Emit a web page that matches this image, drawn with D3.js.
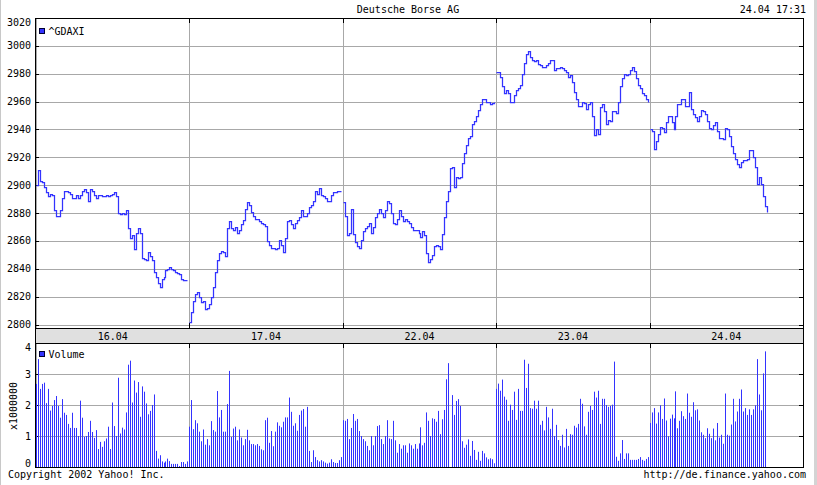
<!DOCTYPE html>
<html><head><meta charset="utf-8">
<script src="https://cdn.jsdelivr.net/npm/d3@7"></script>
<style>
body{margin:0;background:#fff}
svg{display:block}
text{font-family:"DejaVu Sans Mono",monospace;font-size:10px;fill:#000}
</style>
</head><body>
<svg id="c" width="817" height="485"></svg>
<script>
// ---------- data ----------
const title = "Deutsche Borse AG";
const stamp = "24.04 17:31";
const days = ["16.04", "17.04", "22.04", "23.04", "24.04"];
const slotsPerDay = 77; // sampling slots per trading session shown on the chart
const priceTicks = [2800, 2820, 2840, 2860, 2880, 2900, 2920, 2940, 2960, 2980, 3000, 3020];
const volumeTicks = [0, 1, 2, 3, 4]; // x1000000

const price1604 = [2900,2911,2903,2902,2899,2895,2892,2894,2893,2882,
  2878,2878,2882,2891,2896,2896,2895,2894,2891,2891,
  2893,2891,2893,2896,2897,2895,2889,2897,2896,2893,
  2891,2893,2893,2892,2892,2893,2892,2893,2894,2895,
  2892,2880,2879,2880,2879,2882,2869,2862,2864,2854,
  2866,2869,2866,2848,2847,2846,2852,2849,2846,2838,
  2834,2830,2827,2833,2834,2839,2840,2841,2840,2839,
  2838,2837,2836,2833,2832,2832,2832];
const price1704 = [2802,2809,2817,2822,2823,2820,2816,2817,2811,2812,
  2815,2820,2827,2838,2846,2851,2853,2852,2849,2869,
  2874,2869,2868,2870,2866,2868,2872,2875,2883,2888,
  2886,2881,2878,2876,2876,2874,2873,2872,2871,2860,
  2857,2855,2855,2854,2855,2861,2857,2852,2862,2874,
  2875,2872,2869,2873,2875,2877,2882,2878,2878,2880,
  2884,2886,2889,2896,2894,2898,2893,2892,2891,2889,
  2889,2893,2895,2895,2896,2896,2896];
const price2204 = [2888,2878,2864,2866,2883,2865,2859,2856,2855,2861,
  2867,2869,2871,2873,2866,2870,2877,2880,2883,2880,
  2877,2882,2889,2887,2880,2873,2872,2876,2882,2878,
  2874,2876,2874,2873,2870,2868,2868,2868,2866,2863,
  2867,2864,2851,2845,2847,2850,2856,2857,2856,2854,
  2865,2877,2889,2896,2912,2913,2899,2906,2905,2906,
  2916,2923,2929,2934,2935,2944,2946,2950,2954,2958,
  2962,2962,2960,2960,2958,2959,2960];
const price2304 = [2981,2981,2978,2971,2966,2968,2966,2960,2960,2965,
  2968,2970,2972,2980,2988,2994,2996,2992,2990,2989,
  2990,2987,2986,2985,2985,2986,2988,2990,2990,2983,
  2984,2984,2985,2984,2983,2981,2978,2979,2974,2967,
  2962,2957,2957,2960,2959,2955,2958,2960,2950,2936,
  2940,2937,2956,2958,2953,2944,2947,2946,2953,2953,
  2952,2960,2971,2977,2980,2979,2980,2983,2985,2982,
  2977,2972,2970,2966,2965,2962,2960];
const price2404 = [2940,2939,2926,2932,2937,2942,2941,2938,2945,2950,
  2950,2945,2940,2950,2958,2958,2962,2962,2957,2957,
  2967,2955,2951,2949,2946,2950,2954,2953,2951,2946,
  2941,2940,2943,2945,2939,2934,2934,2933,2941,2940,
  2935,2928,2923,2919,2915,2913,2917,2918,2918,2919,
  2925,2925,2920,2913,2901,2906,2901,2892,2885,2881];

// volume in millions
const volume1604 = [2.68,3.48,2.52,2.68,2.72,2.06,2.52,1.82,1.97,2.16,
  2.29,1.97,1.59,2.19,1.75,1.68,1.39,1.26,1.75,1.26,
  1.26,1.00,2.14,1.59,0.97,1.00,1.13,1.49,1.13,0.94,
  1.19,0.58,0.81,0.65,0.83,0.92,1.30,0.58,2.08,1.32,
  1.00,2.88,1.08,1.27,1.21,1.76,3.30,3.43,2.08,2.79,
  2.40,2.74,1.62,2.60,2.43,2.05,1.70,1.81,2.00,2.34,
  0.52,0.27,0.38,0.18,0.14,0.18,0.27,0.19,0.10,0.10,
  0.10,0.10,0.03,0.16,0.16,0.10,0.18];
const volume1704 = [1.30,2.16,1.22,1.51,1.41,1.14,0.83,1.21,0.72,0.90,
  0.70,1.48,1.19,1.14,2.45,1.60,1.84,1.14,1.14,2.03,
  3.10,0.97,1.24,1.30,0.86,1.21,0.95,0.70,0.90,1.20,
  0.86,0.74,0.74,0.70,0.74,0.68,0.57,0.54,1.51,1.59,
  0.78,1.16,0.67,1.14,1.44,1.33,1.28,1.46,1.60,1.60,
  2.24,1.78,1.33,1.41,1.17,1.68,1.82,1.87,1.30,1.94,
  0.52,0.16,0.54,0.32,0.22,0.18,0.22,0.18,0.14,0.11,
  0.14,0.25,0.16,0.13,0.13,0.22,0.32];
const volume2204 = [1.51,1.49,1.55,0.90,1.26,1.71,1.49,1.55,1.16,1.00,
  0.90,0.83,0.68,0.54,1.00,0.70,1.00,1.32,1.35,0.90,
  0.74,1.00,1.51,0.92,0.90,1.49,0.86,0.46,0.74,0.59,
  0.70,0.70,0.46,0.76,0.70,0.59,0.74,0.59,0.76,1.28,
  0.70,0.78,1.76,1.49,1.00,1.57,1.55,1.46,1.81,1.06,
  1.54,1.84,2.83,3.35,0,2.32,1.68,2.13,2.19,1.97,
  0.83,0.62,0.72,0.89,0.36,0.84,0.55,0.23,0.49,0.20,
  0.52,0.44,0.31,0.25,0.28,0.25,0.12];
const volume2304 = [2.52,2.69,2.46,2.82,2.27,2.17,1.49,2.01,1.84,2.43,
  1.52,2.52,1.81,1.81,3.46,2.55,3.33,1.90,1.88,2.14,
  1.88,2.14,1.36,1.49,1.18,1.94,1.60,1.23,1.88,1.00,
  1.36,0.87,0.68,1.04,0.63,1.23,0.68,1.06,1.04,1.33,
  1.27,1.39,2.20,2.04,1.31,1.04,1.78,1.97,1.84,2.43,
  2.24,2.46,1.39,2.20,2.20,2.00,1.94,1.97,2.01,3.40,
  0.33,0.20,0.44,0.87,0.26,0.44,0.44,0.23,0.23,0.23,
  0.23,0.26,0.32,0.23,0.20,0.26,0.32];
const volume2404 = [1.42,1.76,1.90,1.40,1.76,1.99,1.55,2.21,1.50,0.99,
  1.56,1.69,1.57,2.44,1.25,1.49,1.80,1.64,1.55,2.37,
  1.75,1.62,2.09,1.83,1.86,1.50,1.12,1.04,0.93,1.25,
  1.07,0.93,1.24,0.86,1.42,0.95,1.04,0.75,2.37,1.04,
  1.01,1.37,2.20,1.47,1.79,2.20,2.50,1.79,1.90,1.68,
  1.86,1.68,1.86,1.99,3.48,2.34,1.83,3.02,3.73];

const priceByDay = [price1604, price1704, price2204, price2304, price2404];
const volumeByDay = [volume1604, volume1704, volume2204, volume2304, volume2404];

// ---------- layout ----------
const svg = d3.select("#c");
const L = 36, R = 803;
const pTop = 18, pBot = 328, vTop = 343, vBot = 467;
const blue = "#3333ff", grid = "#a8a8a8";

const x = d3.scaleLinear().domain([0, days.length * slotsPerDay]).range([L, R]);
const y = d3.scaleLinear().domain([2797.5, 3020]).range([pBot, pTop]);
const yv = d3.scaleLinear().domain([0, 4]).range([vBot, vTop]);
const px = v => Math.round(v) + 0.5;

// image edge
svg.append("rect").attr("x", 0).attr("y", 0).attr("width", 1).attr("height", 485).attr("fill", "#c8c8c8");
svg.append("rect").attr("x", 814).attr("y", 0).attr("width", 3).attr("height", 485).attr("fill", "#d4d4d4");

// header
svg.append("text").attr("x", 408).attr("y", 13).attr("text-anchor", "middle").text(title);
svg.append("text").attr("x", 806).attr("y", 13).attr("text-anchor", "end").text(stamp);

// date strip
svg.append("rect").attr("x", L).attr("y", pBot).attr("width", R - L).attr("height", vTop - pBot).attr("fill", "#e0e0e0");
svg.selectAll(".dlab").data(days).enter().append("text")
  .attr("x", (d, i) => x((i + 0.5) * slotsPerDay)).attr("y", 339.5)
  .attr("text-anchor", "middle").text(d => d);

const bounds = d3.range(1, days.length).map(k => k * slotsPerDay);

function panelGrid(top, bot, scale, ticks) {
  const g = svg.append("g");
  g.selectAll(".h").data(ticks.filter(t => Math.abs(scale(t) - top) > 2 && Math.abs(scale(t) - bot) > 2))
    .enter().append("line")
    .attr("x1", L).attr("x2", R).attr("y1", d => px(scale(d))).attr("y2", d => px(scale(d)))
    .attr("stroke", grid);
  g.selectAll(".v").data(bounds).enter().append("line")
    .attr("x1", d => px(x(d))).attr("x2", d => px(x(d))).attr("y1", top).attr("y2", bot)
    .attr("stroke", grid);
  // inner grey edge next to the left axis
  g.append("line").attr("x1", L + 0.5).attr("x2", L + 0.5).attr("y1", top).attr("y2", bot).attr("stroke", grid);
  ticks.forEach(t => {
    const yy = px(scale(t));
    g.append("line").attr("x1", L - 1).attr("x2", L + 3).attr("y1", yy).attr("y2", yy).attr("stroke", "#000");
    g.append("line").attr("x1", R - 4).attr("x2", R).attr("y1", yy).attr("y2", yy).attr("stroke", "#000");
  });
  bounds.forEach(b => {
    const xx = px(x(b));
    g.append("line").attr("x1", xx).attr("x2", xx).attr("y1", top).attr("y2", top + 5).attr("stroke", "#000");
    g.append("line").attr("x1", xx).attr("x2", xx).attr("y1", bot - 5).attr("y2", bot).attr("stroke", "#000");
  });
  g.selectAll(".lab").data(ticks).enter().append("text")
    .attr("x", 31).attr("text-anchor", "end").attr("dominant-baseline", "central")
    .attr("y", d => Math.min(Math.max(scale(d), top + 4.5), bot - 4))
    .text(d => d);
}
panelGrid(pTop, pBot, y, priceTicks);
panelGrid(vTop, vBot, yv, volumeTicks);

svg.append("clipPath").attr("id", "pc").append("rect").attr("x", L).attr("y", pTop).attr("width", R - L).attr("height", pBot - pTop);

// price line: one stepped segment per session
const line = d3.line().curve(d3.curveStepAfter);
priceByDay.forEach((arr, d) => {
  svg.append("path").attr("clip-path", "url(#pc)")
    .attr("d", line(arr.map((v, i) => [Math.round(x(d * slotsPerDay + i)) + 0.5, Math.round(y(v)) + 0.5])))
    .attr("fill", "none").attr("stroke", blue).attr("stroke-width", 1.25);
});

// volume bars
volumeByDay.forEach((arr, d) => {
  svg.append("g").selectAll("rect").data(arr).enter().append("rect")
    .attr("x", (v, i) => Math.round(x(d * slotsPerDay + i)))
    .attr("width", 1)
    .attr("y", v => yv(v))
    .attr("height", v => yv(0) - yv(v))
    .attr("fill", blue);
});

// frames
function hline(yy) { svg.append("line").attr("x1", L - 1).attr("x2", R + 1).attr("y1", yy).attr("y2", yy).attr("stroke", "#000"); }
hline(pTop + 0.5); hline(pBot + 0.5); hline(vTop + 0.5); hline(vBot + 0.5);
svg.append("line").attr("x1", L - 0.5).attr("x2", L - 0.5).attr("y1", pTop).attr("y2", vBot + 1).attr("stroke", "#000");
svg.append("line").attr("x1", R + 0.5).attr("x2", R + 0.5).attr("y1", pTop).attr("y2", vBot + 1).attr("stroke", "#000");

// legends
function legend(yy, label) {
  svg.append("rect").attr("x", 39.5).attr("y", yy + 0.5).attr("width", 5).attr("height", 5)
    .attr("fill", blue).attr("stroke", "#000033");
  svg.append("text").attr("x", 48.5).attr("y", yy + 6.5).text(label);
}
legend(28, "^GDAXI");
legend(351, "Volume");

svg.append("text").attr("transform", "translate(17,406) rotate(-90)").attr("text-anchor", "middle").text("x1000000");

svg.append("text").attr("x", 8).attr("y", 478).text("Copyright 2002 Yahoo! Inc.");
svg.append("text").attr("x", 806).attr("y", 478).attr("text-anchor", "end").text("http://de.finance.yahoo.com");
</script>
</body></html>
